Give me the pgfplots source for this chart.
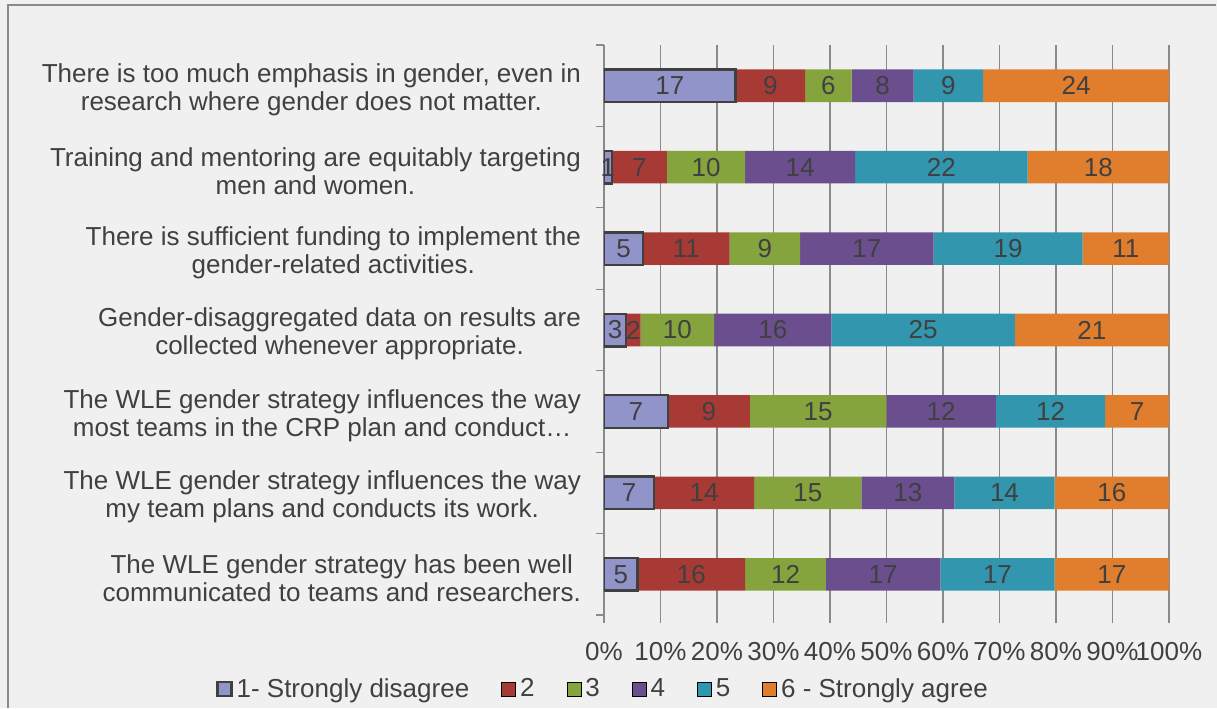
\documentclass[border=0pt]{standalone}
\usepackage{pgfplots}
\pgfplotsset{compat=1.18}
\usepackage{pgfplotstable}
\usepackage{fontspec}
\setmainfont{Liberation Sans}

\definecolor{cA}{HTML}{9194C9}
\definecolor{cB}{HTML}{A83A35}
\definecolor{cC}{HTML}{86A43D}
\definecolor{cD}{HTML}{6A4E8D}
\definecolor{cE}{HTML}{3296AE}
\definecolor{cF}{HTML}{E07E2E}
\definecolor{txt}{HTML}{404040}
\definecolor{bg}{HTML}{F0F0F0}
\definecolor{gridc}{HTML}{8A8A8A}

% counts per answer (1 = strongly disagree ... 6 = strongly agree)
\pgfplotstableread{
y a b c d e f
0 17 9 6 8 9 24
1 1 7 10 14 22 18
2 5 11 9 17 19 11
3 3 2 10 16 25 21
4 7 9 15 12 12 7
5 7 14 15 13 14 16
6 5 16 12 17 17 17
}\survey

\newcommand{\tot}{(\thisrow{a}+\thisrow{b}+\thisrow{c}+\thisrow{d}+\thisrow{e}+\thisrow{f})}

\begin{document}
\begin{tikzpicture}[font=\fontsize{13}{14}\selectfont]
\fill[bg] (-302pt,-46.5pt) rectangle (306.5pt,307.5pt);
\draw[gridc, line width=0.7pt] (-298pt,-46.5pt) -- (-298pt,305pt) -- (306pt,305pt);
\begin{axis}[
  scale only axis, width=282.5pt, height=285pt,
  at={(0,0)}, anchor=south west,
  xbar stacked, bar width=0.4,
  xmin=0, xmax=100, ymin=-0.5, ymax=6.5, y dir=reverse,
  axis lines*=left, axis line style={gridc, -},
  x axis line style={draw=none},
  xtick={0,10,...,100},
  xticklabel={\pgfmathprintnumber{\tick}\%},
  x tick label style={yshift=-6pt},
  xmajorgrids, grid style={gridc, line width=0.6pt},
  tick align=outside, major tick length=4pt,
  tick style={gridc, line width=0.6pt},
  ytick={0,...,6},
  y tick style={draw=none},
  yticklabels={
    {There is too much emphasis in gender, even in\\research where gender does not matter.},
    {Training and mentoring are equitably targeting\\men and women.},
    {There is sufficient funding to implement the\\gender-related activities.},
    {Gender-disaggregated data on results are\\collected whenever appropriate.},
    {The WLE gender strategy influences the way\\most teams in the CRP plan and conduct…},
    {The WLE gender strategy influences the way\\my team plans and conducts its work.},
    {The WLE gender strategy has been well\\communicated to teams and researchers.}},
  y tick label style={align=center, xshift=-4pt, yshift=-2pt},
  extra y ticks={-0.5,0.5,...,6.5},
  extra y tick labels={},
  extra y tick style={y tick style={draw=gridc}},
  ticklabel style={text=txt},
  /pgf/number format/assume math mode=true,
  point meta=explicit,
  nodes near coords={\pgfmathprintnumber{\pgfplotspointmeta}},
  every node near coord/.append style={anchor=center, text=txt},
  legend style={at={(0,-0.13)}, anchor=center, legend columns=6, draw=none, fill=none,
    text=txt, /tikz/every even column/.append style={column sep=14pt}},
  legend image code/.code={\draw[#1] (0pt,-3.5pt) rectangle (7pt,3.5pt);},
]
\addplot[fill=cA, draw=txt, line width=1.2pt] table[x expr=\thisrow{a}/\tot*100, y=y, meta=a] {\survey};
\addplot[fill=cB, draw=none] table[x expr=\thisrow{b}/\tot*100, y=y, meta=b] {\survey};
\addplot[fill=cC, draw=none] table[x expr=\thisrow{c}/\tot*100, y=y, meta=c] {\survey};
\addplot[fill=cD, draw=none] table[x expr=\thisrow{d}/\tot*100, y=y, meta=d] {\survey};
\addplot[fill=cE, draw=none] table[x expr=\thisrow{e}/\tot*100, y=y, meta=e] {\survey};
\addplot[fill=cF, draw=none] table[x expr=\thisrow{f}/\tot*100, y=y, meta=f] {\survey};
\legend{1- Strongly disagree, 2, 3, 4, 5, 6 - Strongly agree}
\end{axis}
\end{tikzpicture}
\end{document}
